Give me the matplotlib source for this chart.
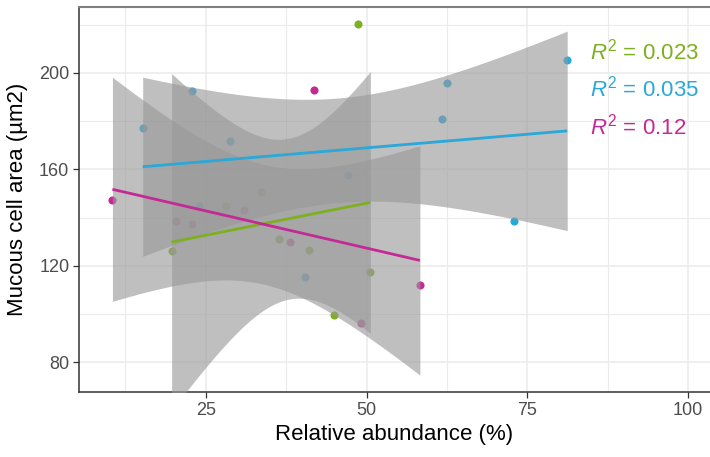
import numpy as np
import matplotlib
matplotlib.use("Agg")
import matplotlib.pyplot as plt

plt.rcParams['font.family'] = ['Liberation Sans', 'DejaVu Sans']
plt.rcParams['mathtext.fontset'] = 'custom'
plt.rcParams['mathtext.rm'] = 'Liberation Sans'
plt.rcParams['mathtext.it'] = 'Liberation Sans:italic'

# ---- data ----
green_x = [48.6, 19.7, 33.6, 28.2, 36.4, 41.1, 50.6, 45.0]
green_y = [220.1, 126.1, 150.5, 144.7, 131.3, 126.8, 117.4, 99.6]
blue_x = [81.2, 62.5, 61.7, 22.9, 15.2, 28.7, 47.1, 40.4, 72.9, 23.9]
blue_y = [205.4, 195.6, 181.0, 192.3, 177.1, 171.7, 157.8, 115.3, 138.6, 144.7]
magenta_x = [10.5, 20.4, 22.9, 30.9, 38.1, 41.9, 49.1, 58.3]
magenta_y = [147.2, 138.6, 137.4, 143.3, 130.1, 193.0, 96.2, 112.2]
r2_labels = ["0.023", "0.035", "0.12"]
x_ticks = [25, 50, 75, 100]
y_ticks = [80, 120, 160, 200]

colors = ["#7DB01E", "#2AA8D8", "#C42A96"]
series = [(green_x, green_y), (blue_x, blue_y), (magenta_x, magenta_y)]
T95 = {6: 2.4469, 8: 2.3060}

fig = plt.figure(figsize=(7.10, 4.57), dpi=100)
ax = fig.add_axes([79/710, 65/457, (710-79)/710, (392-7)/457])

for (xs, ys), c in zip(series, colors):
    ax.scatter(xs, ys, s=34, color=c, zorder=2, linewidths=0)

for (xs, ys), c in zip(series, colors):
    x = np.asarray(xs, float); y = np.asarray(ys, float)
    n = len(x)
    b, a = np.polyfit(x, y, 1)
    xx = np.linspace(x.min(), x.max(), 80)
    yy = a + b * xx
    resid = y - (a + b * x)
    s = np.sqrt(np.sum(resid**2) / (n - 2))
    se = s * np.sqrt(1/n + (xx - x.mean())**2 / np.sum((x - x.mean())**2))
    t = T95[n - 2]
    ax.fill_between(xx, yy - t*se, yy + t*se, color="#999999", alpha=0.62,
                    linewidth=0, zorder=3)
for (xs, ys), c in zip(series, colors):
    x = np.asarray(xs, float); y = np.asarray(ys, float)
    b, a = np.polyfit(x, y, 1)
    xx = np.linspace(x.min(), x.max(), 80)
    ax.plot(xx, a + b*xx, color=c, linewidth=2.0, zorder=4, solid_capstyle='butt')

ax.set_xlim(5.3, 103.4)
ax.set_ylim(67.75, 227.3)
ax.set_xticks(x_ticks)
ax.set_yticks(y_ticks)
ax.set_xticks([12.5, 37.5, 62.5, 87.5], minor=True)
ax.set_yticks([100, 140, 180, 220], minor=True)
ax.grid(True, which='major', color='#EBEBEB', linewidth=1.1, zorder=0)
ax.grid(True, which='minor', color='#EBEBEB', linewidth=0.8, zorder=0)
ax.set_axisbelow(True)
ax.tick_params(which='minor', length=0)
ax.tick_params(which='major', length=4, width=0.9, color='#333333',
               labelsize=13, labelcolor='#4D4D4D', pad=3)

for side in ['left', 'bottom']:
    ax.spines[side].set_color('#333333')
    ax.spines[side].set_linewidth(1.1)
ax.spines['top'].set_color('#7F7F7F')
ax.spines['top'].set_linewidth(1.5)
ax.spines['right'].set_visible(False)

ax.set_xlabel("Relative abundance (%)", fontsize=16, color='black', labelpad=4)
ax.set_ylabel("Mucous cell area (µm2)", fontsize=16, color='black', labelpad=8)

label_y = [208.8, 193.5, 177.8]
for lab, c, yv in zip(r2_labels, colors, label_y):
    ax.text(84.8, yv, "$R^2$ = " + lab, color=c, fontsize=16,
            ha='left', va='center', zorder=5)

fig.savefig("out.png", dpi=100)
